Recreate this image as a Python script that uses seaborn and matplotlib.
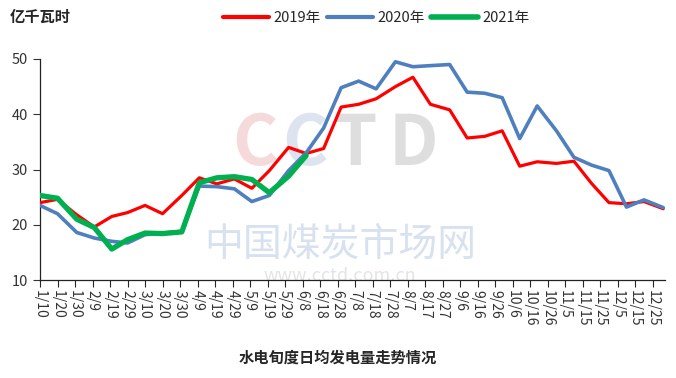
import matplotlib
matplotlib.use("Agg")
import matplotlib.pyplot as plt
import pandas as pd
import seaborn as sns

# dekad end dates (plotted on a common leap-year calendar)
dates = ['1/10', '1/20', '1/31', '2/10', '2/20', '2/29', '3/10', '3/20', '3/31',
         '4/10', '4/20', '4/30', '5/10', '5/20', '5/31', '6/10', '6/20', '6/30',
         '7/10', '7/20', '7/31', '8/10', '8/20', '8/31', '9/10', '9/20', '9/30',
         '10/10', '10/20', '10/31', '11/10', '11/20', '11/30', '12/10', '12/20', '12/31']

# 亿千瓦时
y2019 = [24.0, 24.6, 21.8, 19.6, 21.5, 22.2, 23.5, 22.0, 25.3,
         28.5, 27.4, 28.3, 26.6, 29.8, 34.0, 32.9, 33.8, 41.3,
         41.8, 42.8, 45.0, 46.7, 41.8, 40.8, 35.7, 36.0, 37.0,
         30.6, 31.4, 31.1, 31.5, 27.5, 24.0, 23.8, 24.2, 22.9]
y2020 = [23.5, 22.0, 18.6, 17.6, 17.0, 16.7, 18.2, 18.5, 18.8,
         27.0, 26.9, 26.5, 24.2, 25.3, 29.8, 33.0, 37.5, 44.8,
         46.0, 44.6, 49.5, 48.6, 48.8, 49.0, 44.0, 43.8, 43.0,
         35.6, 41.5, 37.0, 32.2, 30.8, 29.8, 23.2, 24.5, 23.1]
y2021 = [25.3, 24.8, 21.0, 19.5, 15.6, 17.3, 18.5, 18.4, 18.7,
         27.6, 28.5, 28.7, 28.2, 25.8, 28.8, 32.5]

tick_labels = ['1/10', '1/20', '1/30', '2/9', '2/19', '2/29', '3/10', '3/20', '3/30',
               '4/9', '4/19', '4/29', '5/9', '5/19', '5/29', '6/8', '6/18', '6/28',
               '7/8', '7/18', '7/28', '8/7', '8/17', '8/27', '9/6', '9/16', '9/26',
               '10/6', '10/16', '10/26', '11/5', '11/15', '11/25', '12/5', '12/15', '12/25']


def day_of_year(md):
    return pd.to_datetime(['2020/' + s for s in md], format='%Y/%m/%d').dayofyear


day = day_of_year(dates)
df = pd.concat([
    pd.DataFrame({'day': day, 'val': y2019, 'year': '2019年'}),
    pd.DataFrame({'day': day, 'val': y2020, 'year': '2020年'}),
    pd.DataFrame({'day': day[:len(y2021)], 'val': y2021, 'year': '2021年'}),
])

sns.set_style('white')
plt.rcParams['font.family'] = ['Noto Sans CJK SC', 'DejaVu Sans']

fig = plt.figure(figsize=(6.76, 3.78), dpi=100)
ax = fig.add_axes([40 / 676, 98 / 378, 625 / 676, 221 / 378])

# watermark
for s, xpos, col in [('C', 0.344, '#f4cdd0'), ('C', 0.424, '#d3dcea'), ('T', 0.505, '#d4d4d4'),
                     ('D', 0.597, '#d4d4d4')]:
    ax.text(xpos, 0.61, s, transform=ax.transAxes, ha='center', va='center',
            fontsize=50, fontweight='bold', color=col, alpha=0.75, zorder=0)
ax.text(0.48, 0.16, '中国煤炭市场网', transform=ax.transAxes, ha='center', va='center',
        fontsize=28, color='#cddaec', alpha=0.8, zorder=0)
ax.text(0.48, 0.02, 'www.cctd.com.cn', transform=ax.transAxes, ha='center', va='center',
        fontsize=13, color='#e4e4e4', zorder=0)

palette = {'2019年': '#ff0000', '2020年': '#4f7fbf', '2021年': '#00b050'}
widths = {'2019年': 2.3, '2020年': 2.6, '2021年': 3.8}
sns.lineplot(data=df, x='day', y='val', hue='year', palette=palette, sort=False,
             ax=ax, legend=False, zorder=3)
for line, yr in zip(ax.get_lines(), palette):
    line.set_linewidth(widths[yr])
    line.set_solid_joinstyle('round')
    line.set_solid_capstyle('round')
# 2021 on top
ax.get_lines()[2].set_zorder(4)

ax.set_xlim(10, 367)
ax.set_ylim(10, 50)
ax.set_yticks([10, 20, 30, 40, 50])
ax.set_xticks(day_of_year(tick_labels))
ax.set_xticklabels(tick_labels, rotation=270, fontsize=10, color='#333333')
ax.tick_params(axis='y', labelsize=10.5, colors='#333333', length=5, width=0.8,
               direction='out', left=True)
ax.tick_params(axis='x', length=5, width=0.8, direction='out', bottom=True, pad=2)
ax.set_xlabel('')
ax.set_ylabel('')
sns.despine(ax=ax)
for sp in ['left', 'bottom']:
    ax.spines[sp].set_color('#222222')
    ax.spines[sp].set_linewidth(0.9)

handles = [plt.Line2D([], [], color=palette[k], lw=3 if k != '2021年' else 4) for k in palette]
fig.legend(handles, list(palette), loc='center', bbox_to_anchor=(0.556, 0.952), ncol=3,
           frameon=False, fontsize=10.5, handlelength=3.2, handletextpad=0.3,
           columnspacing=0.4)

fig.text(10 / 676, 0.955, '亿千瓦时', fontsize=11, fontweight='bold', va='center', ha='left')
fig.text(0.5, 20 / 378, '水电旬度日均发电量走势情况', fontsize=11, fontweight='bold',
         ha='center', va='center')

fig.savefig('out.png', dpi=100)
